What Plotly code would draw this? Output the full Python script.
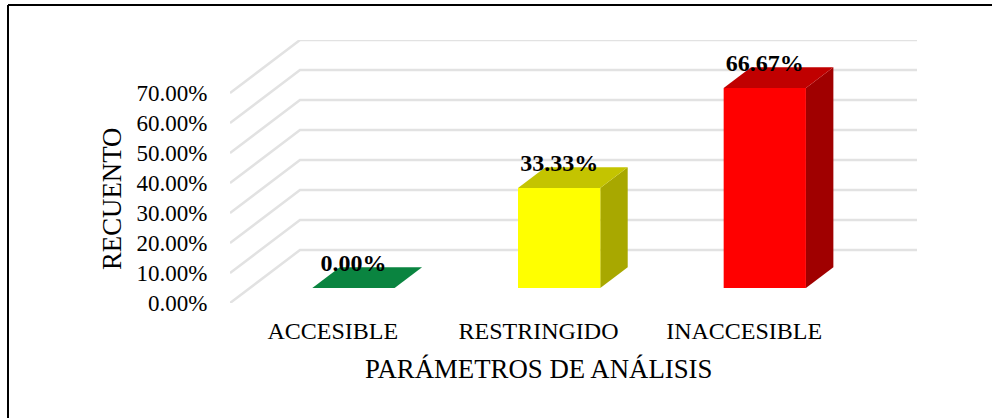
"""Oblique 3D-style column chart drawn with filled Plotly scatter traces."""

import plotly.graph_objs as go

categories = ["ACCESIBLE", "RESTRINGIDO", "INACCESIBLE"]
values = [0.00, 33.33, 66.67]
y_ticks = [0, 10, 20, 30, 40, 50, 60, 70]
y_tick_labels = ["0.00%", "10.00%", "20.00%", "30.00%", "40.00%", "50.00%", "60.00%", "70.00%"]

front_colors = ["#00b050", "#ffff00", "#ff0000"]
top_colors = ["#0a8440", "#c4c400", "#c00000"]
side_colors = ["#067038", "#a8a800", "#a00000"]

W, H = 992, 418
# plot area in pixels, the right and top parts hold the receding walls
LEFT, RIGHT, TOP, BOTTOM = 230, 917, 40, 303
PX_PER_CAT = 205.67
PX_PER_PCT = 3.0

# depth of the floor in data units, and where the bars sit along it
DEPTH_X = 70 / PX_PER_CAT
DEPTH_Y = 53 / PX_PER_PCT
BAR_NEAR = 0.283
BAR_FAR = 0.675
BAR_WIDTH = 0.40
BAR_NUDGE = 0.004

FONT = "Liberation Serif"
X_RANGE = [-0.5, 2.5 + DEPTH_X]
Y_RANGE = [0, 70 + DEPTH_Y]


def project(x, y, depth):
    """Shift a point back along the oblique depth direction"""
    return x + DEPTH_X * depth, y + DEPTH_Y * depth


def face(points, color):
    """Filled polygon from (x, y, depth) corners"""
    xs, ys = zip(*[project(*p) for p in points])
    return go.Scatter(x=list(xs) + [xs[0]], y=list(ys) + [ys[0]], mode="lines", fill="toself",
                      fillcolor=color, line=dict(width=0, color=color), hoverinfo="skip", showlegend=False)


fig = go.Figure()

# wall gridlines: diagonal on the side wall, then straight along the back wall
for tick in y_ticks:
    xs, ys = zip(project(X_RANGE[0], tick, 0), project(X_RANGE[0], tick, 1), project(2.5, tick, 1))
    fig.add_trace(go.Scatter(x=xs, y=ys, mode="lines", line=dict(color="#e2e2e2", width=2.5),
                             hoverinfo="skip", showlegend=False))

for i, value in enumerate(values):
    x0, x1 = i - BAR_WIDTH / 2 + BAR_NUDGE, i + BAR_WIDTH / 2 + BAR_NUDGE
    fig.add_trace(face([(x1, 0, BAR_NEAR), (x1, 0, BAR_FAR), (x1, value, BAR_FAR), (x1, value, BAR_NEAR)], side_colors[i]))
    fig.add_trace(face([(x0, value, BAR_NEAR), (x1, value, BAR_NEAR), (x1, value, BAR_FAR), (x0, value, BAR_FAR)], top_colors[i]))
    fig.add_trace(face([(x0, 0, BAR_NEAR), (x1, 0, BAR_NEAR), (x1, value, BAR_NEAR), (x0, value, BAR_NEAR)], front_colors[i]))

# data labels float just above the front edge of each bar
label_x = [project(i, v, BAR_NEAR)[0] + 0.004 for i, v in enumerate(values)]
label_y = [project(i, v, BAR_NEAR)[1] + 23 / PX_PER_PCT for i, v in enumerate(values)]
fig.add_trace(go.Scatter(x=label_x, y=label_y, mode="text", text=[f"{v:.2f}%" for v in values],
                         textposition="middle center", cliponaxis=False,
                         textfont=dict(family=FONT, size=24, color="black", weight="bold"),
                         hoverinfo="skip", showlegend=False))

fig.update_xaxes(range=X_RANGE, tickmode="array", tickvals=list(range(len(categories))), ticktext=categories,
                 showgrid=False, zeroline=False, showline=False, ticks="outside", ticklen=6,
                 tickcolor="rgba(0,0,0,0)", tickfont=dict(family=FONT, size=24, color="black"))
fig.update_yaxes(range=Y_RANGE, tickmode="array", tickvals=y_ticks, ticktext=y_tick_labels,
                 showgrid=False, zeroline=False, showline=False, ticks="outside", ticklen=17,
                 tickcolor="rgba(0,0,0,0)", tickfont=dict(family=FONT, size=23, color="black"))

fig.update_layout(
    width=W, height=H, autosize=False, showlegend=False,
    margin=dict(l=LEFT, r=W - RIGHT, t=TOP, b=H - BOTTOM, autoexpand=False),
    paper_bgcolor="white", plot_bgcolor="white",
    # frame only shows on the top and left, as in the pasted chart
    shapes=[
        dict(type="line", xref="paper", yref="paper", x0=(8 - LEFT) / (RIGHT - LEFT), x1=(W - LEFT) / (RIGHT - LEFT),
             y0=(BOTTOM - 5) / (BOTTOM - TOP), y1=(BOTTOM - 5) / (BOTTOM - TOP), line=dict(color="black", width=2)),
        dict(type="line", xref="paper", yref="paper", x0=(8 - LEFT) / (RIGHT - LEFT), x1=(8 - LEFT) / (RIGHT - LEFT),
             y0=(BOTTOM - 5) / (BOTTOM - TOP), y1=(BOTTOM - H) / (BOTTOM - TOP), line=dict(color="black", width=2)),
    ],
    annotations=[
        dict(text="PARÁMETROS DE ANÁLISIS", xref="paper", yref="paper", showarrow=False,
             x=(538 - LEFT) / (RIGHT - LEFT), y=(BOTTOM - 369) / (BOTTOM - TOP),
             xanchor="center", yanchor="middle", font=dict(family=FONT, size=26.8, color="black")),
        dict(text="RECUENTO", xref="paper", yref="paper", showarrow=False, textangle=-90,
             x=(112 - LEFT) / (RIGHT - LEFT), y=(BOTTOM - 199) / (BOTTOM - TOP),
             xanchor="center", yanchor="middle", font=dict(family=FONT, size=26.8, color="black")),
    ],
)

fig.write_html("out.html", config={"displayModeBar": False},
               post_script="document.body.style.margin='0';")
